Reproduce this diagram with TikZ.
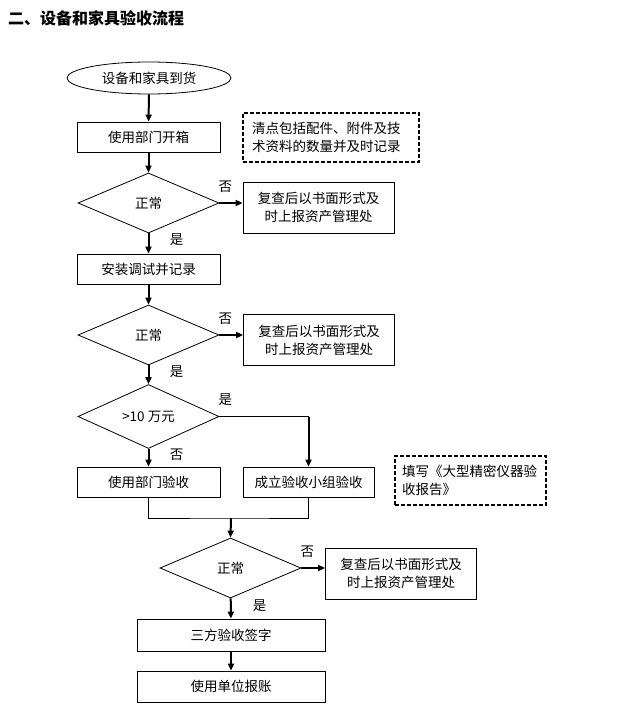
\documentclass[tikz,border=0pt]{standalone}
\usepackage{fontspec}
\setmainfont{Noto Sans CJK SC}
\usepackage{tikz}
\usetikzlibrary{shapes.geometric}
\usetikzlibrary{arrows.meta}
\tikzset{
  % node options
  start/.style={ellipse,draw,line width=0.8pt,minimum width=164pt,minimum height=32pt,inner sep=0pt},
  proc/.style={rectangle,draw,line width=0.8pt,minimum width=143pt,minimum height=30pt,inner sep=0pt},
  wideProc/.style={proc,minimum width=188pt,minimum height=31pt},
  check/.style={diamond,draw,line width=0.8pt,minimum width=141pt,minimum height=60pt,inner sep=0pt},
  report/.style={proc,align=center,minimum width=151pt,minimum height=51pt},
  note/.style={rectangle,draw,line width=1.5pt,dash pattern=on 4pt off 2pt,align=left,
    inner xsep=9pt,minimum height=49pt},
  answer/.style={inner sep=0pt},
  % path options
  flow/.style={-{Triangle[length=7pt,width=6pt]},line width=2pt},
  link/.style={line width=0.8pt},
}

\begin{document}
\begin{tikzpicture}[x=1pt,y=-1pt,font=\fontsize{13.5pt}{18pt}\selectfont]
    \useasboundingbox (0,0) rectangle (638,706);
    \node[anchor=west,inner sep=0pt,font=\fontsize{16pt}{18pt}\selectfont\bfseries] (title) at (8,18) {二、设备和家具验收流程};

    \node[start] (arrive) at (149,78) {设备和家具到货};
    \node[proc] (unpack) at (148.5,137) {使用部门开箱};
    \node[note,text width=158pt] (note1) at (331,137.5) {清点包括配件、附件及技\\术资料的数量并及时记录};
    \node[check] (chk1) at (148.5,203) {正常};
    \node[report] (rep1) at (318.5,207.5) {复查后以书面形式及\\时上报资产管理处};
    \node[proc] (install) at (148.5,269) {安装调试并记录};
    \node[check] (chk2) at (148.5,335) {正常};
    \node[report] (rep2) at (319,340) {复查后以书面形式及\\时上报资产管理处};
    \node[check] (price) at (148.5,416.5) {>10 万元};
    \node[proc] (selfacc) at (148.5,482) {使用部门验收};
    \node[proc,minimum width=131pt] (group) at (308.5,482) {成立验收小组验收};
    \node[note,text width=137pt,inner xsep=7pt] (note2) at (470.5,480.5) {填写《大型精密仪器验\\收报告》};
    \node[check] (chk3) at (230.5,568) {正常};
    \node[report] (rep3) at (401,573.5) {复查后以书面形式及\\时上报资产管理处};
    \node[wideProc,minimum height=32pt] (sign) at (231,635) {三方验收签字};
    \node[wideProc] (pay) at (231,686.5) {使用单位报账};

    % yes / no marks
    \node[answer] (no1) at ([xshift=6pt,yshift=16pt]chk1.east) {否};
    \node[answer] (yes1) at ([xshift=28pt,yshift=-6pt]chk1.south) {是};
    \node[answer] (no2) at ([xshift=6pt,yshift=16pt]chk2.east) {否};
    \node[answer] (yes2) at ([xshift=28pt,yshift=-6pt]chk2.south) {是};
    \node[answer] (yes3) at ([xshift=6pt,yshift=17pt]price.east) {是};
    \node[answer] (no3) at ([xshift=28pt,yshift=-6pt]price.south) {否};
    \node[answer] (no4) at ([xshift=6pt,yshift=16pt]chk3.east) {否};
    \node[answer] (yes4) at ([xshift=29pt,yshift=-7pt]chk3.south) {是};

    \draw[flow] (arrive) -- (unpack);
    \draw[flow] (unpack) -- (chk1);
    \draw[flow] (chk1.east) -- (chk1.east -| rep1.west);
    \draw[flow] (chk1) -- (install);
    \draw[flow] (install) -- (chk2);
    \draw[flow] (chk2.east) -- (chk2.east -| rep2.west);
    \draw[flow] (chk2) -- (price);
    \draw[flow] (price) -- (selfacc);
    \draw[link] (price.east) -- (price.east -| group.north) coordinate (turn);
    \draw[flow] (turn) -- (group.north);
    \coordinate (merge) at (231,518);
    \draw[link] (selfacc.south) |- (merge) -| (group.south);
    \draw[flow] (merge) -- (chk3.north);
    \draw[flow] (chk3.east) -- (chk3.east -| rep3.west);
    \draw[flow] (chk3) -- (sign);
    \draw[flow] (sign) -- (pay);
  \end{tikzpicture}
\end{document}
